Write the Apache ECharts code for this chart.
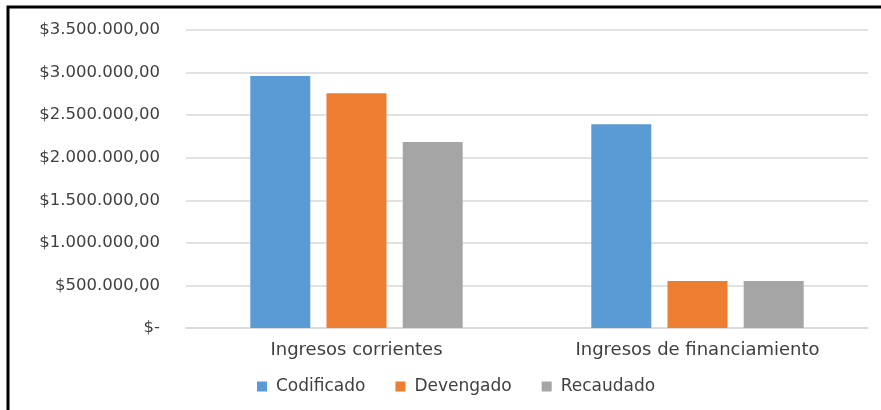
<!DOCTYPE html>
<html>
<head>
<meta charset="utf-8">
<script src="https://cdn.jsdelivr.net/npm/echarts@6/dist/echarts.min.js"></script>
<style>
html,body{margin:0;padding:0;background:#fff;}
#c{width:881px;height:410px;}
</style>
</head>
<body>
<div id="c"></div>
<script>
const categories = ['Ingresos corrientes', 'Ingresos de financiamiento'];
const seriesNames = ['Codificado', 'Devengado', 'Recaudado'];
const codificado = [2960000, 2392000];
const devengado = [2757000, 552000];
const recaudado = [2185000, 552000];
const colors = ['#5B9BD5', '#ED7D31', '#A5A5A5'];

function fmt(v) {
  if (v === 0) return '$-';
  const s = Math.round(v).toString().replace(/\B(?=(\d{3})+(?!\d))/g, '.');
  return '$' + s + ',00';
}

const chart = echarts.init(document.getElementById('c'));
const font = 'DejaVu Sans';
chart.setOption({
  animation: false,
  backgroundColor: '#fff',
  textStyle: { fontFamily: font },
  graphic: [{
    type: 'rect',
    shape: { x: 8, y: 7, width: 900, height: 500 },
    style: { fill: null, stroke: '#000', lineWidth: 3 },
    z: 100
  }],
  grid: { left: 186, right: 13, top: 30, bottom: 82, containLabel: false },
  legend: {
    bottom: 10,
    left: 252,
    itemWidth: 10,
    itemHeight: 10,
    itemGap: 30,
    icon: 'rect',
    textStyle: { fontFamily: font, fontSize: 17, color: '#404040', padding: [0, 0, 0, 4] },
    data: seriesNames
  },
  xAxis: {
    type: 'category',
    data: categories,
    axisLine: { show: true, lineStyle: { color: '#D9D9D9', width: 1.5 } },
    axisTick: { show: false },
    axisLabel: { fontFamily: font, fontSize: 18, color: '#404040', margin: 13 }
  },
  yAxis: {
    type: 'value',
    min: 0,
    max: 3500000,
    interval: 500000,
    axisLine: { show: false },
    axisTick: { show: false },
    splitLine: { lineStyle: { color: '#D9D9D9', width: 1.5 } },
    axisLabel: { fontFamily: font, fontSize: 16.5, color: '#404040', margin: 26, formatter: fmt }
  },
  series: [
    { name: seriesNames[0], type: 'bar', data: codificado, barWidth: 60, barGap: '27%', itemStyle: { color: colors[0] } },
    { name: seriesNames[1], type: 'bar', data: devengado, barWidth: 60, barGap: '27%', itemStyle: { color: colors[1] } },
    { name: seriesNames[2], type: 'bar', data: recaudado, barWidth: 60, barGap: '27%', itemStyle: { color: colors[2] } }
  ]
});
</script>
</body>
</html>
